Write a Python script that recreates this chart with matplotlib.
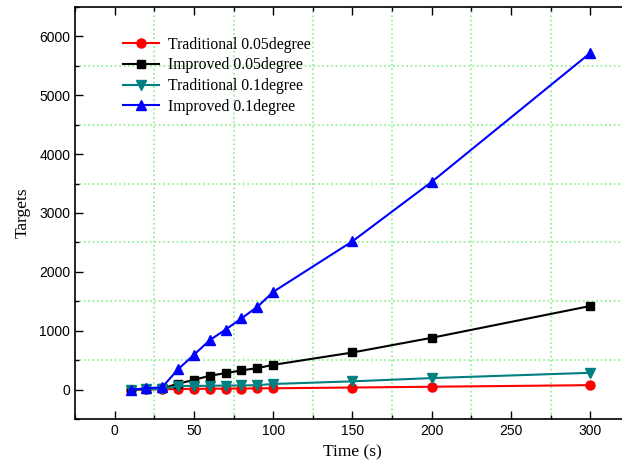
import numpy as np
import matplotlib.pyplot as plt
from matplotlib.ticker import MultipleLocator

# tiempos de simulacion [s]
tiempo = [10, 20, 30, 40, 50, 60, 70, 80, 90, 100, 150, 200, 300]

# objetivos detectados por cada metodo
trad_005 = [0, 2, 5, 10, 12, 14, 16, 18, 20, 22, 35, 48, 75]
impr_005 = [0, 5, 20, 100, 165, 235, 280, 325, 365, 420, 630, 880, 1420]
trad_01 = [0, 5, 10, 60, 62, 65, 68, 70, 75, 95, 140, 195, 285]
impr_01 = [0, 20, 40, 345, 590, 840, 1020, 1210, 1405, 1660, 2520, 3530, 5720]

etiquetas = ['Traditional 0.05degree', 'Improved 0.05degree',
             'Traditional 0.1degree', 'Improved 0.1degree']

fig = plt.figure(figsize=(6.22, 4.61), dpi=100)
ax = fig.add_axes([75 / 622, 42 / 461, 555 / 622, 412 / 461])

serif = ['Liberation Serif', 'DejaVu Serif']
sans = ['Liberation Sans', 'DejaVu Sans']

ax.plot(tiempo, trad_005, color='#ff0000', marker='o', ms=6.5, lw=1.5, label=etiquetas[0])
ax.plot(tiempo, impr_005, color='black', marker='s', ms=5.8, lw=1.5, label=etiquetas[1])
ax.plot(tiempo, trad_01, color='#008080', marker='v', ms=7.5, lw=1.5, label=etiquetas[2])
ax.plot(tiempo, impr_01, color='#0000ff', marker='^', ms=7.5, lw=1.5, label=etiquetas[3])

ax.set_xlim(-25, 325)
ax.set_ylim(-500, 6500)
ax.xaxis.set_major_locator(MultipleLocator(50))
ax.xaxis.set_minor_locator(MultipleLocator(25))
ax.yaxis.set_major_locator(MultipleLocator(1000))
ax.yaxis.set_minor_locator(MultipleLocator(500))
ax.set_xticks(range(0, 301, 50))

# rejilla solo en las marcas menores
ax.grid(True, which='minor', color='#88f088', linestyle=':', linewidth=1.2)
ax.grid(False, which='major')

ax.tick_params(which='both', direction='in', top=True, right=False)
ax.tick_params(which='major', length=6, width=1)
ax.tick_params(which='minor', length=3, width=1)
ax.spines['right'].set_visible(False)
for lado in ['left', 'bottom', 'top']:
    ax.spines[lado].set_linewidth(1.2)

for lab in ax.get_xticklabels() + ax.get_yticklabels():
    lab.set_family(sans)
    lab.set_fontsize(10)

ax.set_xlabel('Time (s)', family=serif, fontsize=12.5, labelpad=5)
ax.set_ylabel('Targets', family=serif, fontsize=12.5, labelpad=6)

ax.legend(loc='upper left', bbox_to_anchor=(0.075, 0.943), frameon=False,
          handlelength=2.3, handletextpad=0.55, labelspacing=0.3,
          borderaxespad=0, prop={'family': serif, 'size': 11.3})

plt.savefig('out.png', dpi=100)
plt.close()
